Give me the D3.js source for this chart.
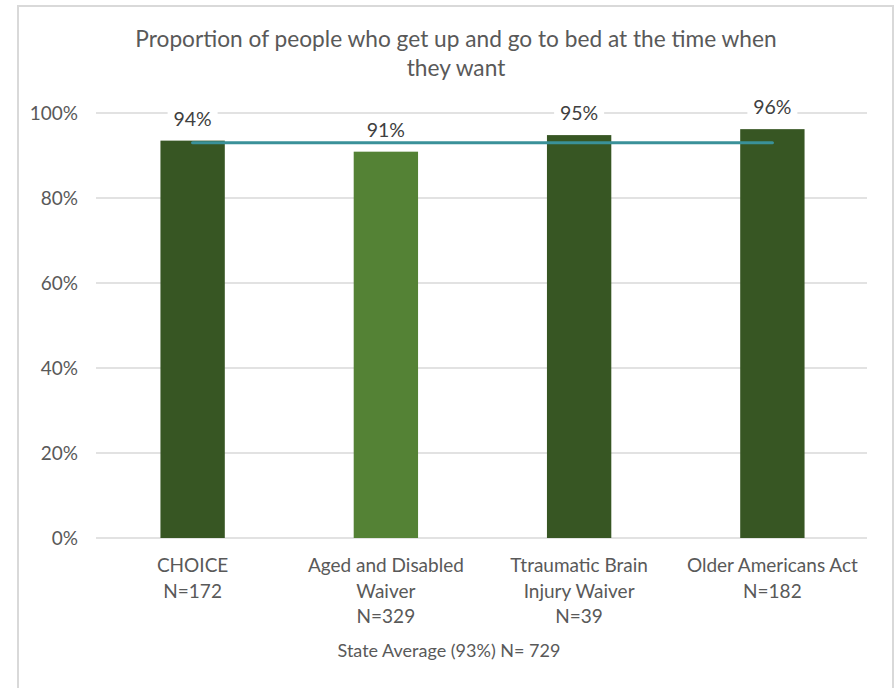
<!DOCTYPE html>
<html><head><meta charset="utf-8">
<script src="https://cdn.jsdelivr.net/npm/d3@7"></script>
<style>html,body{margin:0;padding:0;background:#fff;}svg{display:block;font-family:Lato,"Open Sans",sans-serif;}</style>
</head><body>
<div id="chart"></div>
<script>
const categories = [["CHOICE","N=172"],["Aged and Disabled","Waiver","N=329"],["Ttraumatic Brain","Injury Waiver","N=39"],["Older Americans Act","N=182"]];
const values = [93.5, 90.9, 94.8, 96.2];
const labels = ["94%","91%","95%","96%"];
const barColors = ["#375623","#548235","#375623","#375623"];
const stateAverage = 93.0;
const yTicks = [0,20,40,60,80,100];
const titleLines = ["Proportion of people who get up and go to bed at the time when","they want"];
const footer = "State Average (93%) N= 729";

const W=896,H=688;
const svg=d3.select("#chart").append("svg").attr("width",W).attr("height",H);
svg.append("rect").attr("x",18).attr("y",6).attr("width",875).attr("height",700).attr("fill","#fff").attr("stroke","#d9d9d9").attr("stroke-width",2);

const x=d3.scaleBand().domain(d3.range(categories.length)).range([96,869]).padding(0);
const y=d3.scaleLinear().domain([0,100]).range([538,113]);
const bw=x.bandwidth()*0.333;

// gridlines
svg.append("g").selectAll("line").data(yTicks).join("line")
 .attr("x1",96).attr("x2",867).attr("y1",d=>y(d)).attr("y2",d=>y(d))
 .attr("stroke","#d9d9d9").attr("stroke-width",1.5);
// y tick labels
svg.append("g").selectAll("text").data(yTicks).join("text")
 .attr("x",78).attr("y",d=>y(d)+7).attr("text-anchor","end")
 .attr("font-size",19).attr("fill","#595959").text(d=>d+"%");

// bars
svg.append("g").selectAll("rect").data(values).join("rect")
 .attr("x",(d,i)=>x(i)+x.bandwidth()/2-bw/2).attr("width",bw)
 .attr("y",d=>y(d)).attr("height",d=>y(0)-y(d)).attr("fill",(d,i)=>barColors[i]);

// average line
svg.append("line").attr("x1",x(0)+x.bandwidth()/2).attr("x2",x(3)+x.bandwidth()/2)
 .attr("y1",y(stateAverage)).attr("y2",y(stateAverage))
 .attr("stroke","#3a9199").attr("stroke-width",3.2).attr("stroke-linecap","round");

// data labels
const lg=svg.append("g").selectAll("g").data(values).join("g");
lg.append("rect").attr("x",(d,i)=>x(i)+x.bandwidth()/2-25).attr("width",50)
 .attr("y",d=>y(d)-34).attr("height",22).attr("fill","#fff");
lg.append("text").attr("x",(d,i)=>x(i)+x.bandwidth()/2).attr("y",d=>y(d)-15)
 .attr("text-anchor","middle").attr("font-size",19.5).attr("fill","#404040").text((d,i)=>labels[i]);

// x labels
const xl=svg.append("g").selectAll("text").data(categories).join("text")
 .attr("text-anchor","middle").attr("font-size",19).attr("fill","#595959");
xl.each(function(d,i){
  const t=d3.select(this);
  d.forEach((s,j)=>t.append("tspan").attr("x",x(i)+x.bandwidth()/2).attr("y",572+j*25.5).text(s));
});

// title
svg.append("g").selectAll("text").data(titleLines).join("text")
 .attr("x",456).attr("y",(d,i)=>47+i*29).attr("text-anchor","middle")
 .attr("font-size",22.7).attr("fill","#595959").text(d=>d);

svg.append("text").attr("x",449).attr("y",657).attr("text-anchor","middle")
 .attr("font-size",18).attr("fill","#595959").text(footer);
</script>
</body></html>
